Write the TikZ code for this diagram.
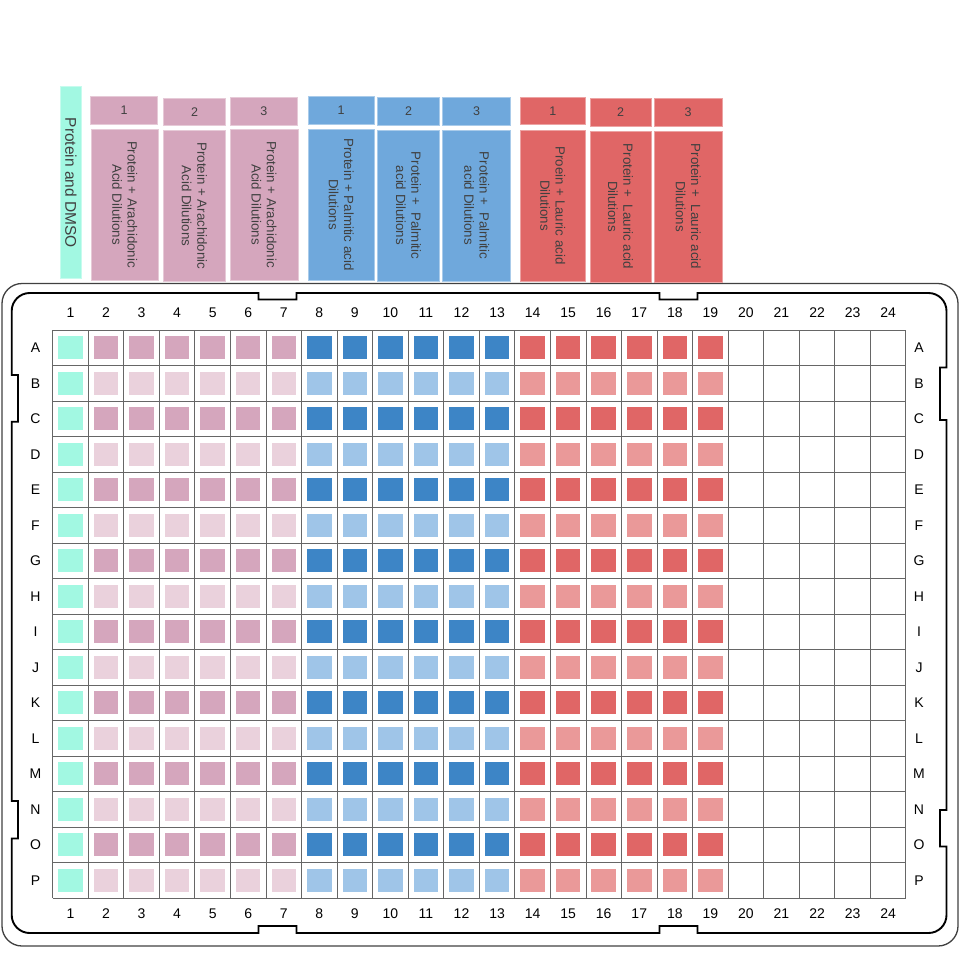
\documentclass[tikz,border=0pt]{standalone}
\usepackage{fontspec}
\setmainfont{Liberation Sans}
\definecolor{dmso}{HTML}{A2F8E2}
\definecolor{arapink}{HTML}{D5A6BD}
\definecolor{arapale}{HTML}{EAD1DC}
\definecolor{palhead}{HTML}{6FA8DC}
\definecolor{palblue}{HTML}{3D85C6}
\definecolor{palpale}{HTML}{9FC5E8}
\definecolor{laured}{HTML}{E06666}
\definecolor{laupale}{HTML}{EA9999}
\begin{document}
\begin{tikzpicture}[x=1pt,y=-1pt,
well/.style={minimum width=24.5pt,minimum height=23pt,inner sep=0pt},
plabel/.style={inner sep=0pt,font=\fontsize{14}{16}\selectfont},
gridline/.style={draw=black!60,line width=0.9pt},
hdr/.style={fill=#1,draw=#1!60!white,line width=0.7pt,inner sep=0pt,text=black!75},
numbox/.style={minimum height=27.5pt,font=\fontsize{12.5}{14}\selectfont},
vtext/.style={rotate=-90,align=center,minimum width=151pt,font=\fontsize{13.3}{15.3}\selectfont}
]
\useasboundingbox (0,0) rectangle (971,959);

\draw[black!75,line width=1.3pt,rounded corners=20pt] (2,283.5) rectangle (958,946);
\draw[line width=1.9pt] (100,293) -- (258.5,293) -- (258.5,299.5) -- (296.5,299.5) -- (296.5,293)
  -- (659.5,293) -- (659.5,299.5) -- (697.5,299.5) -- (697.5,293)
  [rounded corners=18pt] -- (946.5,293) [sharp corners] -- (946.5,367.5) -- (940,367.5) -- (940,420) -- (946.5,420)
  -- (946.5,810) -- (940,810) -- (940,846.5) -- (946.5,846.5)
  [rounded corners=18pt] -- (946.5,933) [sharp corners] -- (697.5,933) -- (697.5,926) -- (659.5,926) -- (659.5,933)
  -- (296.5,933) -- (296.5,926) -- (258.5,926) -- (258.5,933)
  [rounded corners=18pt] -- (11.7,933) [sharp corners] -- (11.7,838.5) -- (18,838.5) -- (18,801) -- (11.7,801)
  -- (11.7,421.7) -- (18,421.7) -- (18,375) -- (11.7,375)
  [rounded corners=18pt] -- (11.7,293) [sharp corners] -- cycle;

\foreach \c in {0,...,24}
  \draw[gridline] ({52.7+\c*35.55},330) -- ({52.7+\c*35.55},898);
\foreach \r in {0,...,16}
  \draw[gridline] (52.7,{330+\r*35.5}) -- (905.9,{330+\r*35.5});

\foreach \c in {1,...,24} {
  \node[plabel] (top\c) at ({52.7+(\c-0.5)*35.55},313) {\c};
  \node[plabel] (bot\c) at ({52.7+(\c-0.5)*35.55},914) {\c};
}
\foreach \l [count=\r] in {A,...,P} {
  \node[plabel] (left\l) at (35.5,{330+(\r-0.5)*35.5}) {\l};
  \node[plabel] (right\l) at (919,{330+(\r-0.5)*35.5}) {\l};
}

\foreach \first/\last/\dark/\pale in {1/1/dmso/dmso,2/7/arapink/arapale,8/13/palblue/palpale,14/19/laured/laupale}
  \foreach \c in {\first,...,\last}
    \foreach \r in {1,...,16} {
      \ifodd\r\relax \def\wellcol{\dark}\else \def\wellcol{\pale}\fi
      \node[well,fill=\wellcol] (w\r-\c) at ({52.7+(\c-0.5)*35.55},{330+(\r-0.5)*35.5}) {};
    }

\node[hdr=dmso,rotate=-90,minimum width=192pt,minimum height=21.7pt,font=\fontsize{15.5}{17}\selectfont] (dmso) at (70.8,182.8) {Protein and DMSO};

\node[hdr=arapink,numbox,minimum width=67pt] (ara1n) at (124.2,110.4) {1};
\node[hdr=arapink,numbox,minimum width=62.4pt] (ara2n) at (194.5,111.7) {2};
\node[hdr=arapink,numbox,minimum width=67.7pt] (ara3n) at (263.8,111.3) {3};
\node[hdr=palhead,numbox,minimum width=65.7pt] (pal1n) at (341.2,110.4) {1};
\node[hdr=palhead,numbox,minimum width=61.6pt] (pal2n) at (408.5,111.2) {2};
\node[hdr=palhead,numbox,minimum width=68pt] (pal3n) at (476.7,111.2) {3};
\node[hdr=laured,numbox,minimum width=65.7pt] (lau1n) at (552.8,110.8) {1};
\node[hdr=laured,numbox,minimum width=61pt] (lau2n) at (620.5,112.3) {2};
\node[hdr=laured,numbox,minimum width=67.7pt] (lau3n) at (688.2,112.3) {3};

\node[hdr=arapink,vtext,minimum height=67pt] (ara1) at (124.8,204.5) {Protein + Arachidonic\\Acid Dilutions};
\node[hdr=arapink,vtext,minimum height=62.7pt] (ara2) at (194.4,205.9) {Protein + Arachidonic\\Acid Dilutions};
\node[hdr=arapink,vtext,minimum height=68pt] (ara3) at (264,204.5) {Protein + Arachidonic\\Acid Dilutions};
\node[hdr=palhead,vtext,minimum height=65.7pt] (pal1) at (341.2,204.5) {Protein + Palmitic acid\\Dilutions};
\node[hdr=palhead,vtext,minimum height=61.6pt] (pal2) at (408.5,205.5) {Protein + \ Palmitic\\acid Dilutions};
\node[hdr=palhead,vtext,minimum height=68pt] (pal3) at (476.7,205.5) {Protein + \ Palmitic\\acid Dilutions};
\node[hdr=laured,vtext,minimum height=65.7pt] (lau1) at (552.8,205.5) {Proein + Lauric acid\\Dilutions};
\node[hdr=laured,vtext,minimum height=61pt] (lau2) at (620.5,206.5) {Protein + \ Lauric acid\\Dilutions};
\node[hdr=laured,vtext,minimum height=67.7pt] (lau3) at (688.2,206.5) {Protein + \ Lauric acid\\Dilutions};
\end{tikzpicture}
\end{document}
